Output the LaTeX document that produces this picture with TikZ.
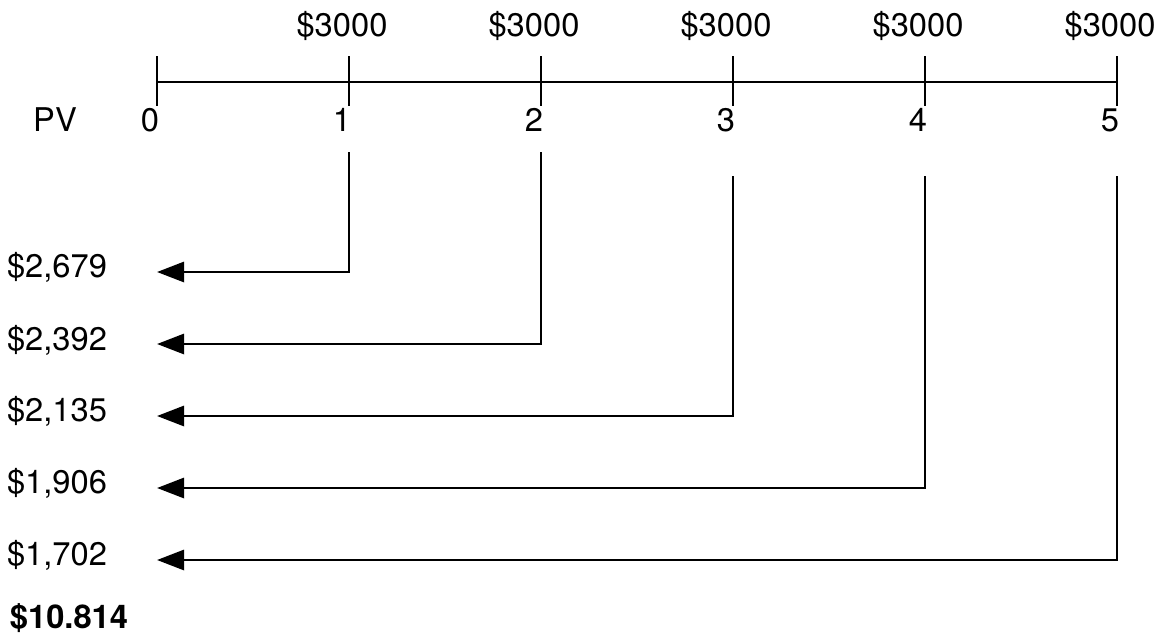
\documentclass[tikz,border=0pt]{standalone}
\usepackage{fontspec}
\setmainfont{TeX Gyre Heros}
\usetikzlibrary{arrows.meta}
\tikzset{
  lbl/.style={inner sep=0pt, font=\fontsize{18.6}{20}\selectfont},
  flow/.style={-{Triangle[length=15.5pt,width=11.5pt]}},
}
\begin{document}
\begin{tikzpicture}[x=0.02cm, y=-0.02cm, line width=1.6pt]
  \useasboundingbox (0,0) rectangle (1161,633);
  % time line
  \draw(157,82)--(1117,82);
  \draw(157,56)--(157,106);
  \draw(349,56)--(349,106);
  \draw(541,56)--(541,106);
  \draw(733,56)--(733,106);
  \draw(925,56)--(925,106);
  \draw(1117,56)--(1117,106);
  % labels on the line
  \node[lbl] (pv) at (55,120) {PV};
  \node[lbl] (t0) at (150,120) {0};
  \node[lbl] (t1) at (342,120) {1};
  \node[lbl] (t2) at (534,120) {2};
  \node[lbl] (t3) at (726,120) {3};
  \node[lbl] (t4) at (918,120) {4};
  \node[lbl] (t5) at (1110,120) {5};
  \node[lbl] (c1) at (342,26) {\$3000};
  \node[lbl] (c2) at (534,26) {\$3000};
  \node[lbl] (c3) at (726,26) {\$3000};
  \node[lbl] (c4) at (918,26) {\$3000};
  \node[lbl] (c5) at (1110,26) {\$3000};
  % discounted values
  \node[lbl] (v1) at (57,267) {\$2,679};
  \node[lbl] (v2) at (57,340) {\$2,392};
  \node[lbl] (v3) at (57,411) {\$2,135};
  \node[lbl] (v4) at (57,483) {\$1,906};
  \node[lbl] (v5) at (57,555) {\$1,702};
  \node[lbl, font=\fontsize{18.6}{20}\selectfont\bfseries] (sum) at (69,618) {\$10.814};
  % flows back to time 0
  \coordinate (s1) at (349,152); \coordinate (e1) at (157,272);
  \coordinate (s2) at (541,152); \coordinate (e2) at (157,344);
  \coordinate (s3) at (733,176); \coordinate (e3) at (157,416);
  \coordinate (s4) at (925,176); \coordinate (e4) at (157,488);
  \coordinate (s5) at (1117,176); \coordinate (e5) at (157,560);
  \draw[flow](s1)|-(e1);
  \draw[flow](s2)|-(e2);
  \draw[flow](s3)|-(e3);
  \draw[flow](s4)|-(e4);
  \draw[flow](s5)|-(e5);
\end{tikzpicture}
\end{document}
